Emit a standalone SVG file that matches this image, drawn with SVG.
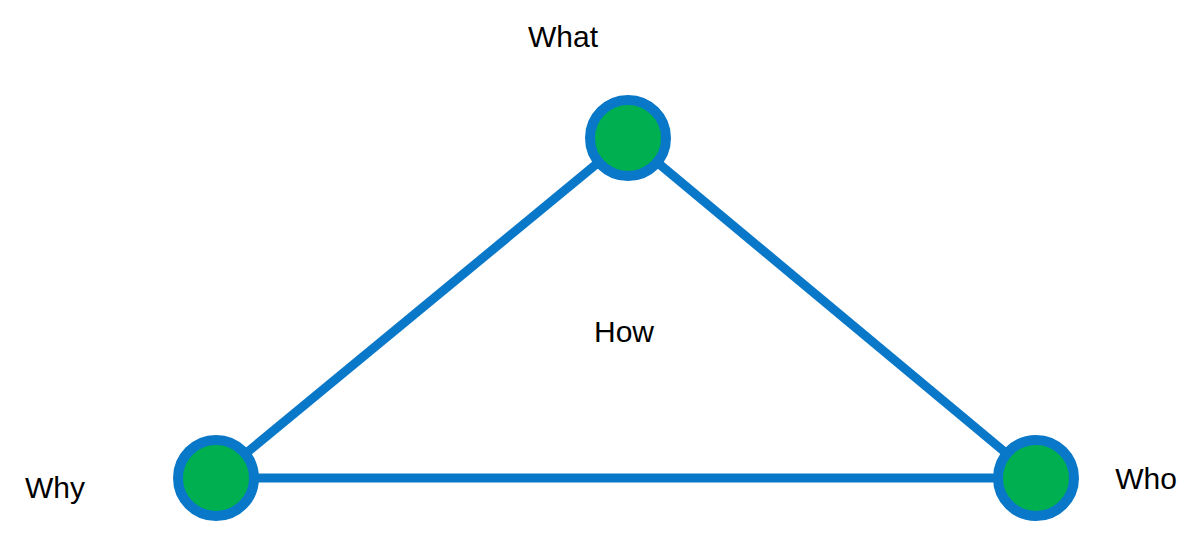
<svg xmlns="http://www.w3.org/2000/svg" width="1197" height="539" viewBox="0 0 1197 539">
<style>
.e{stroke:#0a78c8;stroke-width:9;fill:none}
.n{fill:#00b050;stroke:#0a78c8;stroke-width:10}
.t{font-family:"Liberation Sans",Arial,sans-serif;font-size:30px;fill:#000}
</style>
<rect width="1197" height="539" fill="#fff"/>
<g id="connectors">
<line class="e" x1="628" y1="138" x2="216" y2="478"/>
<line class="e" x1="628" y1="138" x2="1036" y2="478"/>
<line class="e" x1="216" y1="478" x2="1036" y2="478"/>
</g>
<g id="what"><circle class="n" cx="628" cy="138" r="38"/><text class="t" x="563" y="47" text-anchor="middle">What</text></g>
<g id="why"><circle class="n" cx="216" cy="478" r="38"/><text class="t" x="55" y="498" text-anchor="middle">Why</text></g>
<g id="who"><circle class="n" cx="1036" cy="478" r="38"/><text class="t" x="1146" y="489" text-anchor="middle">Who</text></g>
<g id="how"><text class="t" x="624" y="342" text-anchor="middle">How</text></g>
</svg>
